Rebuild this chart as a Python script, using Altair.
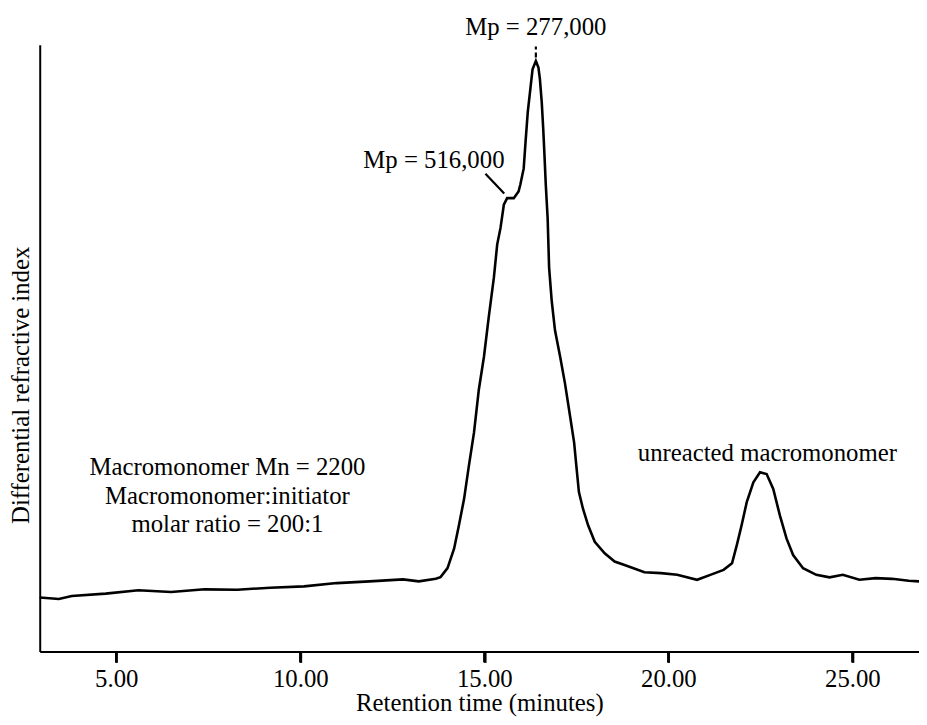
import altair as alt
import pandas as pd

# ---- data (retention time in minutes, RI signal in arbitrary units) ----
time_min = [2.92, 3.44, 3.79, 4.71, 5.60, 6.49, 7.40, 8.29, 9.18, 10.10, 10.99, 11.88, 12.79, 13.22,
            13.68, 13.81, 14.00, 14.18, 14.31, 14.45, 14.58, 14.72, 14.85, 14.99, 15.12, 15.26, 15.35,
            15.44, 15.53, 15.62, 15.80, 15.93, 15.98, 16.07, 16.12, 16.18, 16.25, 16.31, 16.40, 16.47,
            16.51, 16.56, 16.60, 16.63, 16.67, 16.72, 16.76, 16.83, 16.92, 17.06, 17.19, 17.33, 17.44,
            17.50, 17.57, 17.68, 17.82, 18.00, 18.27, 18.54, 18.81, 19.35, 19.80, 20.24, 20.78, 21.14,
            21.50, 21.73, 21.86, 21.99, 22.13, 22.31, 22.49, 22.67, 22.85, 23.03, 23.21, 23.39, 23.66,
            24.02, 24.38, 24.74, 25.19, 25.63, 26.08, 26.53, 26.81]
signal = [8.9, 8.66, 9.15, 9.53, 10.08, 9.80, 10.24, 10.18, 10.51, 10.73, 11.27, 11.55, 11.88, 11.55,
          11.98, 12.25, 13.73, 16.99, 20.80, 25.16, 30.60, 36.11, 43.14, 48.58, 55.12, 61.65, 67.11,
          69.82, 73.64, 74.72, 74.72, 75.82, 77.0, 79.62, 83.99, 88.89, 92.70, 95.97, 97.34, 96.24,
          94.33, 90.52, 86.16, 82.35, 76.91, 71.45, 63.28, 57.84, 52.94, 48.58, 44.23, 38.77, 34.43,
          30.60, 26.26, 23.53, 20.80, 18.09, 16.18, 14.82, 14.26, 13.07, 12.91, 12.63, 11.81, 12.63,
          13.45, 14.54, 17.53, 20.80, 24.62, 27.89, 29.53, 29.25, 26.80, 22.43, 18.63, 15.90, 13.73,
          12.63, 12.21, 12.63, 11.81, 12.09, 11.97, 11.65, 11.55]

x_ticks = [5, 10, 15, 20, 25]
x_domain = [2.92, 26.81]
y_domain = [0, 100]

label_text = ["Mp = 277,000", "Mp = 516,000", "unreacted macromonomer",
              "Macromonomer Mn = 2200", "Macromonomer:initiator", "molar ratio = 200:1"]
label_t = [16.40, 13.63, 22.69, 8.02, 8.02, 8.02]
label_s = [101.6, 79.74, 31.42, 29.08, 24.35, 19.61]

leader_t = [15.03]
leader_t2 = [15.54]
leader_s = [78.76]
leader_s2 = [75.49]

peak_mark_t = [16.40]
peak_mark_s = [97.9]
peak_mark_s2 = [99.7]

FONT = "Liberation Serif"
X_TITLE = "Retention time (minutes)"
Y_TITLE = "Differential refractive index"
PLOT_H = 612

xs = alt.Scale(domain=x_domain, nice=False, zero=False)
ys = alt.Scale(domain=y_domain, nice=False, zero=False)

curve_df = pd.DataFrame({"t": time_min, "s": signal})
labels_df = pd.DataFrame({"t": label_t, "s": label_s, "txt": label_text})
leader_df = pd.DataFrame({"t": leader_t, "t2": leader_t2, "s": leader_s, "s2": leader_s2})
peak_df = pd.DataFrame({"t": peak_mark_t, "s": peak_mark_s, "s2": peak_mark_s2})
tick_df = pd.DataFrame({"t": x_ticks})

X = lambda: alt.X("t:Q", scale=xs, title=X_TITLE)
Y = lambda: alt.Y("s:Q", scale=ys, title=Y_TITLE)

curve = alt.Chart(curve_df).mark_line(color="black", strokeWidth=2.6).encode(
    x=alt.X("t:Q", scale=xs, title=X_TITLE,
            axis=alt.Axis(values=x_ticks, format=".2f")),
    y=alt.Y("s:Q", scale=ys, title=Y_TITLE,
            axis=alt.Axis(labels=False, ticks=False, titleX=-6, titleY=343)),
)

# explicit tick marks below the x axis line, at the tick values
tick_marks = alt.Chart(tick_df).mark_rule(color="black", strokeWidth=2.5).encode(
    x=X(), y=alt.value(PLOT_H), y2=alt.value(PLOT_H + 11))

texts = alt.Chart(labels_df).mark_text(font=FONT, fontSize=25, color="black",
                                       align="center", baseline="alphabetic").encode(
    x=X(), y=Y(), text="txt:N")

leader = alt.Chart(leader_df).mark_rule(color="black", strokeWidth=2.2).encode(
    x=X(), x2="t2:Q", y=Y(), y2="s2:Q")

peak_tick = alt.Chart(peak_df).mark_rule(color="black", strokeWidth=2.2, strokeDash=[5, 3]).encode(
    x=X(), y=Y(), y2="s2:Q")

chart = alt.layer(curve, tick_marks, leader, peak_tick, texts).properties(
    width=887, height=PLOT_H,
    autosize=alt.AutoSizeParams(type="none"),
    padding={"left": 32, "top": 34, "right": 0, "bottom": 63},
).configure_view(stroke=None).configure_axis(
    grid=False, domainColor="black", domainWidth=2,
    titleFont=FONT, titleFontWeight="normal", titleColor="black", titleFontSize=25,
    labelFont=FONT, labelColor="black", labelFontSize=25,
).configure_axisBottom(
    ticks=True, tickColor="#000000", tickWidth=2.5, tickSize=11, tickOpacity=1,
    labelPadding=4, titlePadding=0,
)

chart.save("out.html", embed_options={"renderer": "svg", "actions": False})
